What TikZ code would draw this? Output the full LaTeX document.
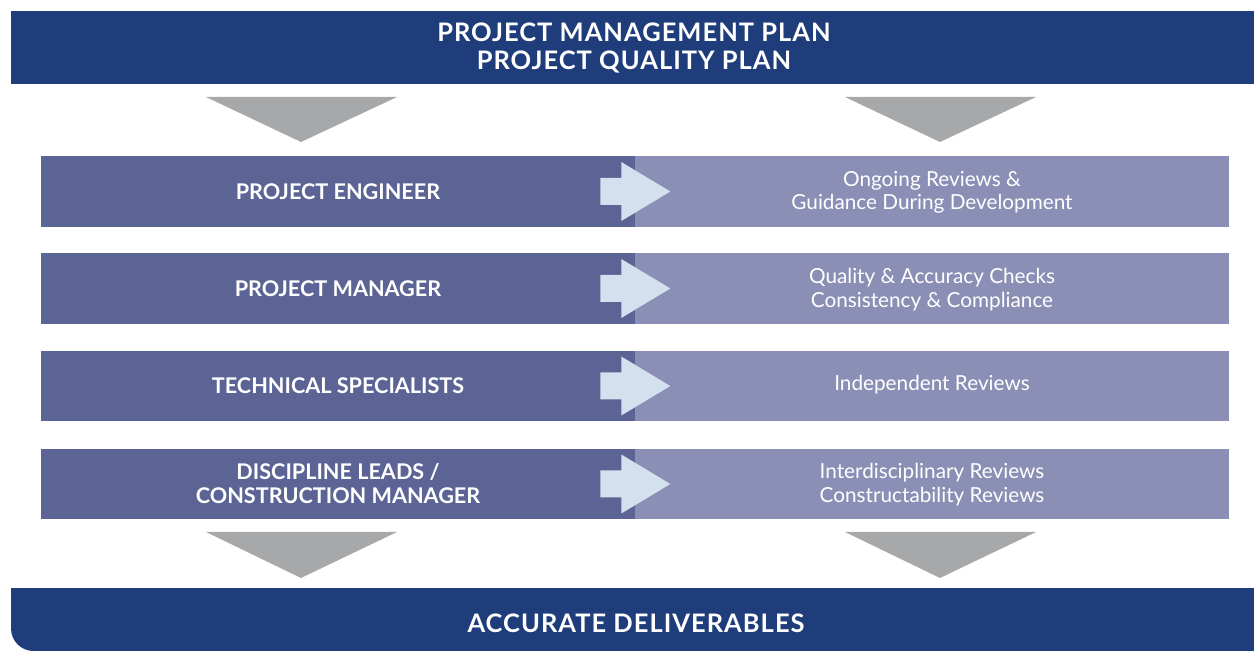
\documentclass[tikz,border=0pt]{standalone}
\usepackage{fontspec}
\setmainfont{Lato}
\usetikzlibrary{positioning}

\definecolor{navy}{HTML}{1F3D7A}
\definecolor{roleblue}{HTML}{5B6495}
\definecolor{tasklilac}{HTML}{8C8FB5}
\definecolor{arrowblue}{HTML}{D3E1EF}
\definecolor{funnelgray}{HTML}{A7A8AA}

\tikzset{
  banner/.style={text=white, align=center, inner sep=0pt,
    font=\bfseries\fontsize{14.5}{15}\selectfont\addfontfeatures{LetterSpace=4}},
  rolebox/.style={fill=roleblue, text=white, minimum width=11.88cm, minimum height=1.42cm,
    inner sep=0pt, align=center, font=\bfseries\fontsize{12.3}{13.6}\selectfont},
  taskbox/.style={fill=tasklilac, text=white, minimum width=11.88cm, minimum height=1.42cm,
    inner sep=0pt, align=center, font=\fontsize{11.8}{13.6}\selectfont},
  funnel/.style={fill=funnelgray},
  pointer/.style={fill=arrowblue}
}

\begin{document}
\begin{tikzpicture}[x=0.02cm, y=-0.02cm]
  \useasboundingbox (0,0) rectangle (1254,651);

  % top banner
  \fill[navy] (11,11) rectangle (1254,84);
  \node[banner] (plans) at (634,48) {PROJECT MANAGEMENT PLAN\\[1pt]PROJECT QUALITY PLAN};

  \fill[funnel] (206,97) -- (397,97) -- (301,142) -- cycle;
  \fill[funnel] (845,97) -- (1036,97) -- (940,142) -- cycle;

  % rows
  \node[rolebox] (eng) at (338,191.5) {PROJECT ENGINEER};
  \node[taskbox] (engtask) at (932,191.5) {\strut Ongoing Reviews \&\\Guidance During Development};

  \node[rolebox] (pm) at (338,288.5) {PROJECT MANAGER};
  \node[taskbox] (pmtask) at (932,288.5) {\strut Quality \& Accuracy Checks\\Consistency \& Compliance};

  \node[rolebox] (tech) at (338,386) {TECHNICAL SPECIALISTS};
  \node[taskbox] (techtask) at (932,386) {\strut Independent Reviews};

  \node[rolebox] (lead) at (338,484) {DISCIPLINE LEADS /\\CONSTRUCTION MANAGER};
  \node[taskbox] (leadtask) at (932,484) {\strut Interdisciplinary Reviews\\Constructability Reviews};

  \foreach \r in {eng,pm,tech,lead}
    \fill[pointer] ([shift={(-35,-13.5)}]\r.east) -- ([shift={(-14,-13.5)}]\r.east)
      -- ([shift={(-14,-29.5)}]\r.east) -- ([shift={(35,0)}]\r.east)
      -- ([shift={(-14,29.5)}]\r.east) -- ([shift={(-14,13.5)}]\r.east)
      -- ([shift={(-35,13.5)}]\r.east) -- cycle;

  \fill[funnel] (206,532) -- (397,532) -- (301,578) -- cycle;
  \fill[funnel] (845,532) -- (1036,532) -- (940,578) -- cycle;

  % bottom banner
  \fill[navy] (1254,588) -- (11,588) [rounded corners=0.45cm] -- (11,651) -- (200,651) [sharp corners] -- (1254,651) -- cycle;
  \node[banner] (deliv) at (636,623) {ACCURATE DELIVERABLES};
\end{tikzpicture}
\end{document}
